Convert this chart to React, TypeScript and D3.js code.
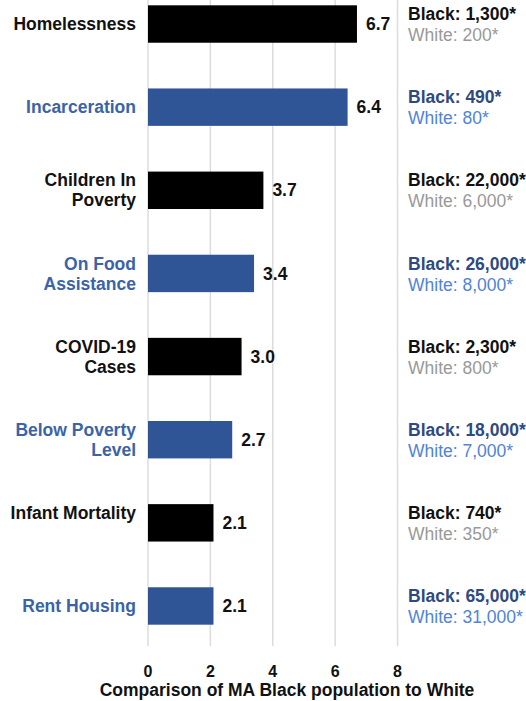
import React from "react";
import * as d3 from "d3";

const categories: string[][] = [
  ["Homelessness"],
  ["Incarceration"],
  ["Children In", "Poverty"],
  ["On Food", "Assistance"],
  ["COVID-19", "Cases"],
  ["Below Poverty", "Level"],
  ["Infant Mortality", ""],
  ["Rent Housing"],
];
const ratios: number[] = [6.7, 6.4, 3.7, 3.4, 3.0, 2.7, 2.1, 2.1];
const blackCounts: string[] = ["1,300*", "490*", "22,000*", "26,000*", "2,300*", "18,000*", "740*", "65,000*"];
const whiteCounts: string[] = ["200*", "80*", "6,000*", "8,000*", "800*", "7,000*", "350*", "31,000*"];
const xTicks: number[] = [0, 2, 4, 6, 8];
const axisTitle = "Comparison of MA Black population to White";

const W = 526;
const H = 701;
const FONT = "'Liberation Sans', Arial, sans-serif";
const FS = 17.5;

export default function App() {
  const x = d3.scaleLinear().domain([0, 8]).range([148, 397.5]);
  const y = d3
    .scaleBand<number>()
    .domain(d3.range(categories.length))
    .range([-3, 633])
    .paddingInner(0.55)
    .paddingOuter(0.1);
  const bw = y.bandwidth();
  const isBlue = (i: number) => i % 2 === 1;
  const barBlue = "#2F5597";
  const labelBlue = "#3A63A8";

  return (
    <svg
      width={W}
      height={H}
      style={{ position: "absolute", left: 0, top: 0, background: "#fff" }}
      fontFamily={FONT}
    >
      {xTicks.map((t) => (
        <line key={t} x1={x(t)} x2={x(t)} y1={0} y2={646} stroke="#dcdcdc" strokeWidth={1.5} />
      ))}
      {ratios.map((v, i) => {
        const yc = (y(i) as number) + bw / 2;
        const blue = isBlue(i);
        const lines = categories[i];
        const lh = 20;
        const startY = yc - ((lines.length - 1) * lh) / 2;
        return (
          <g key={i}>
            <rect
              x={x(0)}
              y={y(i)}
              width={x(v) - x(0)}
              height={bw}
              fill={blue ? barBlue : "#000"}
            />
            <text
              x={x(v) + 9}
              y={yc}
              dy="0.35em"
              fontSize={FS}
              fontWeight="bold"
              fill="#111"
            >
              {v.toFixed(1)}
            </text>
            <text textAnchor="end" fontSize={FS} fontWeight="bold" fill={blue ? labelBlue : "#111"}>
              {lines.map((l, k) => (
                <tspan key={k} x={136} y={startY + k * lh} dy="0.35em">
                  {l}
                </tspan>
              ))}
            </text>
            <text x={408} y={yc - 10} dy="0.35em" fontSize={FS} fontWeight="bold" fill={blue ? "#2E4A80" : "#111"}>
              {"Black: " + blackCounts[i]}
            </text>
            <text x={408} y={yc + 11} dy="0.35em" fontSize={FS} fill={blue ? "#4F83DA" : "#999"}>
              {"White: " + whiteCounts[i]}
            </text>
          </g>
        );
      })}
      {xTicks.map((t) => (
        <text key={"t" + t} x={x(t)} y={671} dy="0.35em" textAnchor="middle" fontSize={16} fontWeight="bold" fill="#111">
          {t}
        </text>
      ))}
      <text x={287} y={690} dy="0.35em" textAnchor="middle" fontSize={FS} fontWeight="bold" fill="#111">
        {axisTitle}
      </text>
    </svg>
  );
}
